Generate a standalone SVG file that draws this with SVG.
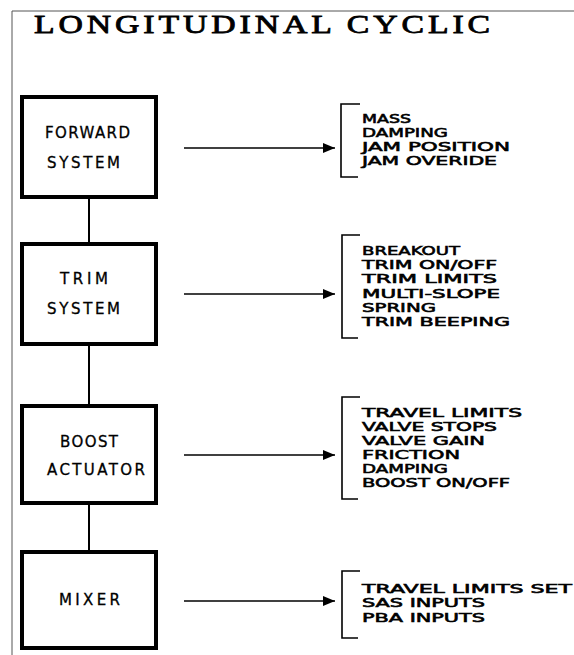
<svg xmlns="http://www.w3.org/2000/svg" width="574" height="655" viewBox="0 0 574 655">
<defs>
<marker id="ah" viewBox="0 0 12 10" refX="12" refY="5" markerWidth="12" markerHeight="10" markerUnits="userSpaceOnUse" orient="auto">
<path d="M0,0 L12,5 L0,10 Z" fill="#000"/>
</marker>
</defs>
<style>
.box{fill:#fff;stroke:#000;stroke-width:4}
.lbl{font-family:"DejaVu Sans",sans-serif;font-size:15px;fill:#000;stroke:#000;stroke-width:0.3}
.lst{font-family:"DejaVu Sans",sans-serif;font-size:12.5px;fill:#000;stroke:#000;stroke-width:0.6}
.con{stroke:#000;stroke-width:2;fill:none}
.arr{stroke:#000;stroke-width:1.6;fill:none;marker-end:url(#ah)}
.brk{stroke:#000;stroke-width:1.6;fill:none}
.frame{stroke:#555;stroke-width:1;fill:none}
.title{font-family:"Liberation Serif",serif;font-size:26px;fill:#000;stroke:#000;stroke-width:0.8}
</style>
<rect width="574" height="655" fill="#fff"/>
<path class="frame" d="M12,655 L12,11 L574,11"/>
<text class="title" x="34" y="33" textLength="460" lengthAdjust="spacingAndGlyphs" letter-spacing="3">LONGITUDINAL CYCLIC</text>

<g id="connectors">
<line class="con" x1="89" y1="197" x2="89" y2="244"/>
<line class="con" x1="89" y1="344" x2="89" y2="406"/>
<line class="con" x1="89" y1="503" x2="89" y2="552"/>
<line class="arr" x1="184" y1="148" x2="335" y2="148"/>
<line class="arr" x1="184" y1="294" x2="335" y2="294"/>
<line class="arr" x1="184" y1="455" x2="335" y2="455"/>
<line class="arr" x1="184" y1="601" x2="335" y2="601"/>
</g>

<g id="forward">
<rect class="box" x="22" y="97" width="134" height="100"/>
<text class="lbl" x="45" y="138" textLength="85" lengthAdjust="spacing">FORWARD</text>
<text class="lbl" x="47" y="168" textLength="73" lengthAdjust="spacing">SYSTEM</text>
</g>
<g id="trim">
<rect class="box" x="22" y="244" width="134" height="100"/>
<text class="lbl" x="60" y="284" textLength="48" lengthAdjust="spacing">TRIM</text>
<text class="lbl" x="47" y="314" textLength="73" lengthAdjust="spacing">SYSTEM</text>
</g>
<g id="boost">
<rect class="box" x="22" y="406" width="134" height="97"/>
<text class="lbl" x="60" y="447" textLength="58" lengthAdjust="spacing">BOOST</text>
<text class="lbl" x="47" y="475" textLength="98" lengthAdjust="spacing">ACTUATOR</text>
</g>
<g id="mixer">
<rect class="box" x="22" y="552" width="134" height="96"/>
<text class="lbl" x="59" y="605" textLength="61" lengthAdjust="spacing">MIXER</text>
</g>

<g id="forward-list">
<path class="brk" d="M360,104 L341,104 L341,177 L358,177"/>
<text class="lst" x="362" y="123" textLength="49" lengthAdjust="spacingAndGlyphs">MASS</text>
<text class="lst" x="362" y="137" textLength="86" lengthAdjust="spacingAndGlyphs">DAMPING</text>
<text class="lst" x="362" y="151" textLength="148" lengthAdjust="spacingAndGlyphs">JAM POSITION</text>
<text class="lst" x="362" y="165" textLength="135" lengthAdjust="spacingAndGlyphs">JAM OVERIDE</text>
</g>
<g id="trim-list">
<path class="brk" d="M360,235 L342,235 L342,338 L358,338"/>
<text class="lst" x="362" y="255" textLength="98" lengthAdjust="spacingAndGlyphs">BREAKOUT</text>
<text class="lst" x="362" y="269" textLength="135" lengthAdjust="spacingAndGlyphs">TRIM ON/OFF</text>
<text class="lst" x="362" y="283" textLength="135" lengthAdjust="spacingAndGlyphs">TRIM LIMITS</text>
<text class="lst" x="362" y="298" textLength="138" lengthAdjust="spacingAndGlyphs">MULTI-SLOPE</text>
<text class="lst" x="362" y="312" textLength="74" lengthAdjust="spacingAndGlyphs">SPRING</text>
<text class="lst" x="362" y="326" textLength="148" lengthAdjust="spacingAndGlyphs">TRIM BEEPING</text>
</g>
<g id="boost-list">
<path class="brk" d="M360,397 L342,397 L342,499 L358,499"/>
<text class="lst" x="362" y="417" textLength="160" lengthAdjust="spacingAndGlyphs">TRAVEL LIMITS</text>
<text class="lst" x="362" y="431" textLength="135" lengthAdjust="spacingAndGlyphs">VALVE STOPS</text>
<text class="lst" x="362" y="445" textLength="123" lengthAdjust="spacingAndGlyphs">VALVE GAIN</text>
<text class="lst" x="362" y="459" textLength="98" lengthAdjust="spacingAndGlyphs">FRICTION</text>
<text class="lst" x="362" y="473" textLength="86" lengthAdjust="spacingAndGlyphs">DAMPING</text>
<text class="lst" x="362" y="487" textLength="148" lengthAdjust="spacingAndGlyphs">BOOST ON/OFF</text>
</g>
<g id="mixer-list">
<path class="brk" d="M360,571 L342,571 L342,638 L358,638"/>
<text class="lst" x="362" y="593" textLength="210" lengthAdjust="spacingAndGlyphs">TRAVEL LIMITS SET</text>
<text class="lst" x="362" y="607" textLength="123" lengthAdjust="spacingAndGlyphs">SAS INPUTS</text>
<text class="lst" x="362" y="622" textLength="123" lengthAdjust="spacingAndGlyphs">PBA INPUTS</text>
</g>
</svg>
